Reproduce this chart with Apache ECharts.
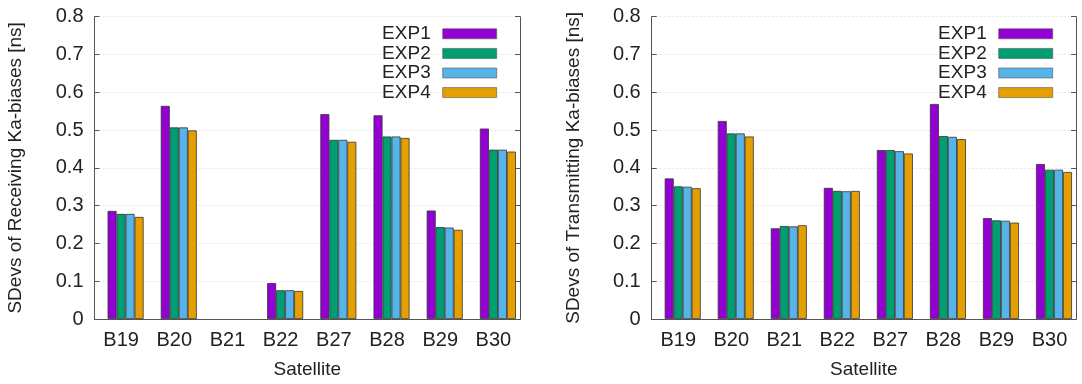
<!DOCTYPE html>
<html>
<head>
<meta charset="utf-8">
<script src="https://cdn.jsdelivr.net/npm/echarts@6/dist/echarts.min.js"></script>
<style>
  html, body { margin: 0; padding: 0; background: #fff; }
  #chart { width: 1082px; height: 384px; }
</style>
</head>
<body>
<div id="chart"></div>
<script>
// satellites on the x axis
const satellites = ['B19', 'B20', 'B21', 'B22', 'B27', 'B28', 'B29', 'B30']
const expNames = ['EXP1', 'EXP2', 'EXP3', 'EXP4']
const expColors = ['#9400d3', '#009e73', '#56b4e9', '#e69f00']
const yTicks = [0, 0.8, 0.1]   // min, max, step

// left panel: receiving Ka-biases (B21 has no value)
const rxExp1 = [0.286, 0.564, null, 0.095, 0.542, 0.539, 0.287, 0.504]
const rxExp2 = [0.278, 0.507, null, 0.076, 0.474, 0.483, 0.243, 0.448]
const rxExp3 = [0.278, 0.507, null, 0.076, 0.474, 0.483, 0.242, 0.448]
const rxExp4 = [0.270, 0.499, null, 0.074, 0.469, 0.479, 0.236, 0.443]

// right panel: transmitting Ka-biases
const txExp1 = [0.372, 0.524, 0.240, 0.347, 0.447, 0.569, 0.267, 0.410]
const txExp2 = [0.351, 0.491, 0.246, 0.339, 0.447, 0.484, 0.261, 0.395]
const txExp3 = [0.350, 0.491, 0.245, 0.338, 0.444, 0.482, 0.260, 0.395]
const txExp4 = [0.346, 0.483, 0.248, 0.339, 0.438, 0.476, 0.255, 0.389]

const font = 'Liberation Sans'
const txtColor = '#222'
const frameColor = '#555'

function bottomAxis(gridIndex){
    return {
        type: 'category', gridIndex: gridIndex, data: satellites,
        name: 'Satellite', nameLocation: 'middle', nameGap: 41,
        nameTextStyle: { fontFamily: font, fontSize: 19, color: txtColor },
        axisLine: { lineStyle: { color: frameColor, width: 1 } },
        axisTick: { inside: true, alignWithLabel: true, length: 5, lineStyle: { color: frameColor } },
        axisLabel: { margin: 11, fontFamily: font, fontSize: 20, color: txtColor },
        splitLine: { show: false }
    }
}
function topAxis(gridIndex){
    return {
        type: 'category', gridIndex: gridIndex, data: satellites, position: 'top',
        axisLine: { lineStyle: { color: frameColor, width: 1 } },
        axisTick: { inside: true, alignWithLabel: true, length: 5, lineStyle: { color: frameColor } },
        axisLabel: { show: false },
        splitLine: { show: false }
    }
}
function leftAxis(gridIndex, name, gap){
    return {
        type: 'value', gridIndex: gridIndex,
        min: yTicks[0], max: yTicks[1], interval: yTicks[2],
        name: name, nameLocation: 'middle', nameGap: gap, nameRotate: 90,
        nameTextStyle: { fontFamily: font, fontSize: 19, color: txtColor },
        axisLine: { show: true, lineStyle: { color: frameColor, width: 1 } },
        axisTick: { show: true, inside: true, length: 5, lineStyle: { color: frameColor } },
        axisLabel: { margin: 11, fontFamily: font, fontSize: 20, color: txtColor },
        splitLine: { show: true, lineStyle: { color: '#e6e6e6', type: [2, 2], width: 1 } }
    }
}
function rightAxis(gridIndex){
    return {
        type: 'value', gridIndex: gridIndex, position: 'right',
        min: yTicks[0], max: yTicks[1], interval: yTicks[2],
        axisLine: { show: true, lineStyle: { color: frameColor, width: 1 } },
        axisTick: { show: true, inside: true, length: 5, lineStyle: { color: frameColor } },
        axisLabel: { show: false },
        splitLine: { show: false }
    }
}
function legendFor(right){
    return {
        data: expNames, orient: 'vertical', align: 'right',
        right: right, top: 19, itemGap: 0,
        itemWidth: 54, itemHeight: 10, icon: 'rect',
        itemStyle: { borderWidth: 0.6, borderColor: '#555' },
        textStyle: { fontFamily: font, fontSize: 19, color: txtColor, lineHeight: 19.6, padding: [0, 7, 0, 0] }
    }
}

// gnuplot draws the cluster a bit right of the tick, so keep an empty slot in front
function makeSeries(gridIdx, lists){
    let out = [{
        name: 'pad', type: 'bar', xAxisIndex: gridIdx, yAxisIndex: gridIdx,
        data: [], barWidth: 9, barGap: '0%', silent: true
    }]
    for (let i = 0; i < lists.length; i++) {
        out.push({
            name: expNames[i], type: 'bar',
            xAxisIndex: gridIdx, yAxisIndex: gridIdx,
            data: lists[i], barWidth: 9, barGap: '0%',
            itemStyle: { color: expColors[i], borderColor: '#333', borderWidth: 0.8 },
            animation: false
        })
    }
    return out
}

let option = {
    animation: false,
    backgroundColor: '#fff',
    grid: [
        { left: 94.5, right: 562, top: 16.7, bottom: 59.5 },
        { left: 651.7, right: 6, top: 16.7, bottom: 59.5 }
    ],
    legend: [legendFor(580), legendFor(24)],
    xAxis: [bottomAxis(0), bottomAxis(1), topAxis(0), topAxis(1)],
    yAxis: [
        leftAxis(0, 'SDevs of Receiving Ka-biases [ns]', 69),
        leftAxis(1, 'SDevs of Transmitting Ka-biases [ns]', 68),
        rightAxis(0), rightAxis(1)
    ],
    series: makeSeries(0, [rxExp1, rxExp2, rxExp3, rxExp4])
        .concat(makeSeries(1, [txExp1, txExp2, txExp3, txExp4]))
}

let chartDom = echarts.init(document.querySelector('#chart'))
chartDom.setOption(option)
</script>
</body>
</html>
